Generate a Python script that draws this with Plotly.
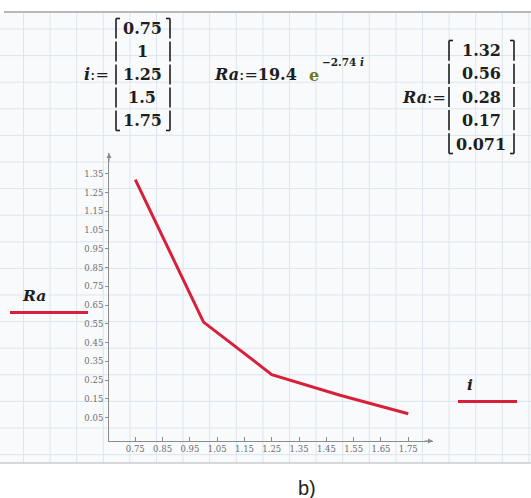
import plotly.graph_objects as go

# ---- data ----
i_vals = [0.75, 1.0, 1.25, 1.5, 1.75]
ra_vals = [1.32, 0.56, 0.28, 0.17, 0.071]
x_ticks = [0.75, 0.85, 0.95, 1.05, 1.15, 1.25, 1.35, 1.45, 1.55, 1.65, 1.75]
x_tick_labels = ["0.75", "0.85", "0.95", "1.05", "1.15", "1.25", "1.35", "1.45", "1.55", "1.65", "1.75"]
y_ticks = [0.05, 0.15, 0.25, 0.35, 0.45, 0.55, 0.65, 0.75, 0.85, 0.95, 1.05, 1.15, 1.25, 1.35]
y_tick_labels = ["0.05", "0.15", "0.25", "0.35", "0.45", "0.55", "0.65", "0.75", "0.85", "0.95",
                 "1.05", "1.15", "1.25", "1.35"]
i_matrix = ["0.75", "1", "1.25", "1.5", "1.75"]
ra_matrix = ["1.32", "0.56", "0.28", "0.17", "0.071"]

W, H = 531, 498
L, R, T, B = 109, 433, 153, 441


def px(x):
    return (x - L) / (R - L)


def py(y):
    return (B - y) / (B - T)


RED = "#d8203a"
GRID = "#dde6ee"
AX = "#8c8c8c"
TXT = "#1e1e1e"
SERIF = "DejaVu Serif"

fig = go.Figure()
fig.add_trace(go.Scatter(x=i_vals, y=ra_vals, mode="lines",
                         line=dict(color=RED, width=3), showlegend=False,
                         hoverinfo="skip"))

shapes = []
# paper background area
shapes.append(dict(type="rect", xref="paper", yref="paper", x0=px(0), x1=px(W), y0=py(463), y1=py(13),
                   fillcolor="#f8fafc", line=dict(width=0), layer="below"))
# grid lines
gx = 23.5
while gx < W:
    shapes.append(dict(type="line", xref="paper", yref="paper", x0=px(gx), x1=px(gx), y0=py(463), y1=py(13),
                       line=dict(color=GRID, width=1), layer="below"))
    gx += 26.6
gy = 29
while gy < 463:
    shapes.append(dict(type="line", xref="paper", yref="paper", x0=px(0), x1=px(W), y0=py(gy), y1=py(gy),
                       line=dict(color=GRID, width=1), layer="below"))
    gy += 26.6
# top and bottom borders
shapes.append(dict(type="line", xref="paper", yref="paper", x0=px(4), x1=px(W), y0=py(12), y1=py(12),
                   line=dict(color="#b8b8b8", width=2), layer="below"))
shapes.append(dict(type="line", xref="paper", yref="paper", x0=px(0), x1=px(W), y0=py(463), y1=py(463),
                   line=dict(color="#c8ccd0", width=1.5), layer="below"))

# legend lines
shapes.append(dict(type="line", xref="paper", yref="paper", x0=px(10), x1=px(88), y0=py(312.5), y1=py(312.5),
                   line=dict(color=RED, width=3)))
shapes.append(dict(type="line", xref="paper", yref="paper", x0=px(458), x1=px(517), y0=py(401.5), y1=py(401.5),
                   line=dict(color=RED, width=3)))


def bracket(xl, xr, ytop, ybot, rows):
    out = []
    n = len(rows)
    h = (ybot - ytop) / n
    for side, xx, d in (("l", xl, 4), ("r", xr, -4)):
        for k in range(n):
            y0 = ytop + k * h + 1.5
            y1 = ytop + (k + 1) * h - 1.5
            out.append(dict(type="line", xref="paper", yref="paper", x0=px(xx), x1=px(xx),
                            y0=py(y0), y1=py(y1), line=dict(color=TXT, width=1.6)))
        out.append(dict(type="line", xref="paper", yref="paper", x0=px(xx), x1=px(xx + d),
                        y0=py(ytop + 1.5), y1=py(ytop + 1.5), line=dict(color=TXT, width=1.6)))
        out.append(dict(type="line", xref="paper", yref="paper", x0=px(xx), x1=px(xx + d),
                        y0=py(ybot - 1.5), y1=py(ybot - 1.5), line=dict(color=TXT, width=1.6)))
    return out


shapes += bracket(116, 170, 17, 132, i_matrix)
shapes += bracket(449, 514, 39, 155, ra_matrix)

ann = []


def text(x, y, s, size=16, xanchor="center", color=TXT, family=SERIF):
    ann.append(dict(x=px(x), y=py(y), xref="paper", yref="paper", text=s, showarrow=False,
                    xanchor=xanchor, yanchor="middle", font=dict(family=family, size=size, color=color)))


for k, s in enumerate(i_matrix):
    text(142, 28 + 23.2 * k, "<b>" + s + "</b>")
for k, s in enumerate(ra_matrix):
    text(481, 50 + 23.5 * k, "<b>" + s + "</b>")

text(111, 74, "<b><i>i</i></b>:=", xanchor="right")
text(448, 97, "<b><i>Ra</i></b>:=", xanchor="right")
text(212, 74, "<b><i>Ra</i></b>:=<b>19.4</b>", xanchor="left")
text(307, 76, "<b>e</b>", xanchor="left", color="#6d7a22")
text(320, 62, "<b>\u22122.74 <i>i</i></b>", size=10.5, xanchor="left")

text(34, 295, "<b><i>Ra</i></b>", size=15.5)
text(470, 384, "<b><i>i</i></b>", size=15.5)
text(307, 488, "b)", size=20, family="Liberation Sans")

# axis arrowheads
ann.append(dict(x=1, y=0, xref="paper", yref="paper", ax=-10, ay=0, text="", showarrow=True,
                arrowhead=2, arrowsize=1, arrowwidth=1, arrowcolor=AX))
ann.append(dict(x=0, y=1, xref="paper", yref="paper", ax=0, ay=10, text="", showarrow=True,
                arrowhead=2, arrowsize=1, arrowwidth=1, arrowcolor=AX))

fig.update_layout(
    width=W, height=H,
    margin=dict(l=L, r=W - R, t=T, b=H - B, pad=0),
    paper_bgcolor="white", plot_bgcolor="rgba(0,0,0,0)",
    shapes=shapes, annotations=ann, showlegend=False,
    xaxis=dict(range=[0.6537, 1.8405], tickvals=x_ticks, ticktext=x_tick_labels,
               showgrid=False, zeroline=False, showline=True, linecolor=AX, linewidth=1,
               ticks="inside", ticklen=4, tickcolor=AX,
               tickfont=dict(family=SERIF, size=8.5, color="#6e6e6e")),
    yaxis=dict(range=[-0.0743, 1.4617], tickvals=y_ticks, ticktext=y_tick_labels,
               showgrid=False, zeroline=False, showline=True, linecolor=AX, linewidth=1,
               ticks="outside", ticklen=3, tickcolor=AX,
               tickfont=dict(family=SERIF, size=8.5, color="#6e6e6e")),
)

fig.write_html("out.html", config={"displayModeBar": False},
               post_script="document.body.style.margin='0px';document.body.style.overflow='hidden';")
